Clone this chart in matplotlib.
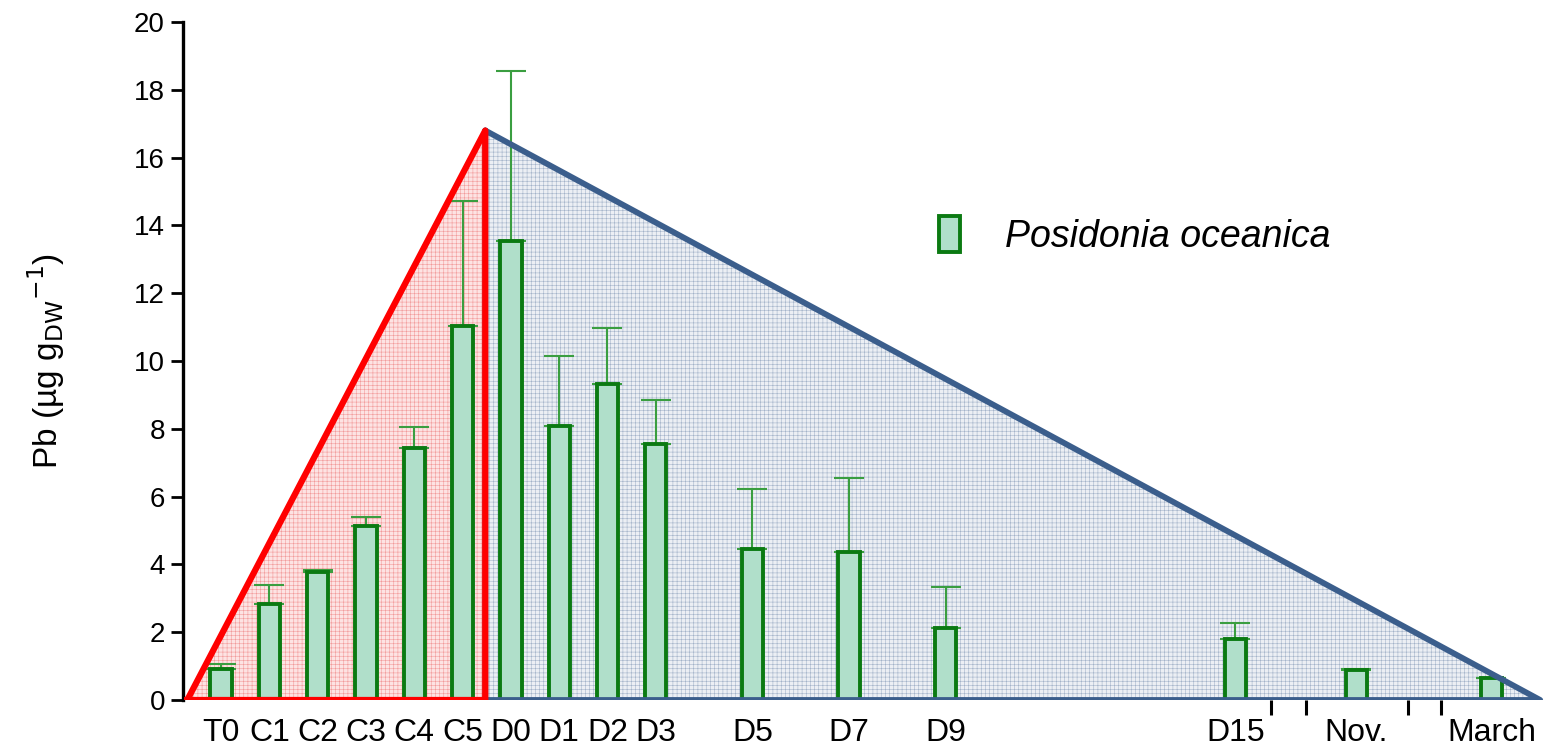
import numpy as np
import matplotlib.pyplot as plt

plt.rcParams['font.family'] = ['Liberation Sans', 'DejaVu Sans']
plt.rcParams['hatch.linewidth'] = 0.4

# sampling points and Pb content (mean, upper error)
labels = ["T0", "C1", "C2", "C3", "C4", "C5", "D0", "D1", "D2", "D3",
          "D5", "D7", "D9", "D15", "Nov.", "March"]
x_pos = [0, 1, 2, 3, 4, 5, 6, 7, 8, 9, 11, 13, 15, 21, 23.5, 26.3]
pb_mean = [0.92, 2.83, 3.78, 5.13, 7.42, 11.03, 13.55, 8.08, 9.32, 7.55,
           4.45, 4.37, 2.12, 1.80, 0.88, 0.66]
pb_err = [0.14, 0.56, 0.05, 0.27, 0.62, 3.70, 5.02, 2.07, 1.65, 1.30,
          1.77, 2.18, 1.22, 0.46, 0.04, 0.0]

# accumulation / depuration triangles
peak = 16.8
uptake_x = [-0.7, 5.47, 5.47]
uptake_y = [0, peak, 0]
release_x = [5.47, 27.31, 5.47]
release_y = [peak, 0, 0]

# broken x axis markers
breaks = [21.74, 22.46, 24.58, 25.26]

fig = plt.figure(figsize=(15.46, 7.47), dpi=100)
ax = fig.add_axes([0.1184, 0.0629, 0.8816, 0.9076])

ax.fill(uptake_x, uptake_y, facecolor="#fde3e3", edgecolor="#f29a9a",
        hatch="++++", linewidth=0, zorder=1)
ax.fill(release_x, release_y, facecolor="#eceff4", edgecolor="#a3b3c9",
        hatch="++++", linewidth=0, zorder=1)

bars = ax.bar(x_pos, pb_mean, width=0.44, color="#b0dfca", edgecolor="#0b7a12",
              linewidth=2.8, zorder=3, label="Posidonia oceanica")
ax.errorbar(x_pos, pb_mean, yerr=[np.zeros(len(pb_err)), pb_err], fmt="none",
            ecolor="#3a9e40", elinewidth=1.5, capsize=11, capthick=1.5, zorder=2)

ax.plot(uptake_x + [uptake_x[0]], uptake_y + [uptake_y[0]], color="#ff0000",
        linewidth=4.5, solid_joinstyle="round", zorder=5)
ax.plot(release_x + [release_x[0]], release_y + [release_y[0]], color="#3b5e8c",
        linewidth=4.2, solid_joinstyle="round", solid_capstyle="round", zorder=4)

ax.set_xlim(-0.787, 27.43)
ax.set_ylim(0, 20)
ax.set_yticks(np.arange(0, 21, 2))
ax.set_xticks(x_pos)
ax.set_xticklabels(labels, fontsize=23)
ax.tick_params(axis="x", length=0, pad=13)
ax.set_xticks(breaks, minor=True)
ax.tick_params(axis="x", which="minor", length=11, width=2.2, color="black")
ax.tick_params(axis="y", length=9, width=2, labelsize=20, pad=4)

for side in ["top", "right", "bottom"]:
    ax.spines[side].set_visible(False)
ax.spines["left"].set_linewidth(2.4)

ax.set_ylabel("Pb (µg g$_{\\mathrm{DW}}$$^{\\mathrm{-}1}$)", fontsize=24, labelpad=48)

ax.legend(handles=[bars], loc="upper left", bbox_to_anchor=(0.53, 0.763),
          frameon=False, prop={"style": "italic", "size": 27},
          handlelength=0.55, handleheight=1.1, handletextpad=1.2)

fig.savefig("out.png", dpi=100)
